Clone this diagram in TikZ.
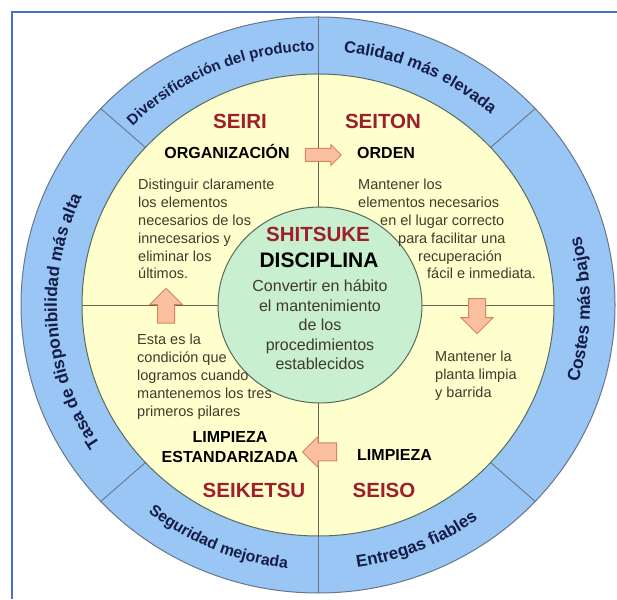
\documentclass[tikz,border=0pt]{standalone}
\usepackage{fontspec}
\setmainfont{Liberation Sans}
\usetikzlibrary{calc,shapes.arrows,shapes.geometric,decorations.text}
\definecolor{frameblue}{RGB}{68,114,196}
\definecolor{ringblue}{RGB}{153,198,244}
\definecolor{ringedge}{RGB}{105,118,138}
\definecolor{ringnavy}{RGB}{22,28,72}
\definecolor{paleyellow}{RGB}{255,255,206}
\definecolor{lineolive}{RGB}{105,98,78}
\definecolor{mint}{RGB}{200,239,207}
\definecolor{mintedge}{RGB}{88,108,92}
\definecolor{titlered}{RGB}{158,30,42}
\definecolor{bodytext}{RGB}{64,58,42}
\definecolor{arrowfill}{RGB}{250,192,160}
\definecolor{arrowedge}{RGB}{214,134,92}
% text on the blue ring: #1 centre angle, #2 1=clockwise / -1=counter, #3 size, #4 text
\newcommand{\ringlabel}[4]{%
  \pgfmathsetmacro{\rlx}{#2>0 ? 261 : 272}%
  \pgfmathsetmacro{\rly}{#2>0 ? 254 : 265}%
  \pgfmathsetmacro{\rla}{#1+#2*70}%
  \pgfmathsetmacro{\rlb}{#1-#2*70}%
  \path[decorate,decoration={text along path,text align=center,text color=ringnavy,
      text={|\fontsize{#3}{#3}\selectfont\bfseries|#4}}]
    ($(O)+(\rla:\rlx pt and \rly pt)$) arc[start angle=\rla,end angle=\rlb,
      x radius=\rlx pt,y radius=\rly pt];}

\begin{document}
\begin{tikzpicture}[x=1pt,y=1pt,
  body/.style={font=\fontsize{14.5}{17}\selectfont,text=bodytext,inner sep=0pt},
  corebody/.style={font=\fontsize{16}{19}\selectfont,text=bodytext,inner sep=0pt},
  pillar/.style={font=\fontsize{16}{19}\selectfont\bfseries,text=black,inner sep=0pt},
  jptitle/.style={font=\fontsize{20.5}{24}\selectfont\bfseries,text=titlered,inner sep=0pt},
  % #1 half shaft width, #2 head overhang, #3 length
  blockarrow/.style n args={3}{single arrow,draw=arrowedge,fill=arrowfill,line width=1pt,
      inner xsep=0pt,inner ysep=#1,single arrow head extend=#2,minimum height=#3,
      single arrow tip angle=90},
  sepline/.style={draw=ringedge,line width=0.9pt}]
  \useasboundingbox (0,0) rectangle (617,599);
  \fill[white] (0,0) rectangle (617,599);
  % --- page frame (only top and left edges show) ---
  \draw[frameblue,line width=2pt] (617,587) -- (12,587) -- (12,0);
  \coordinate (O) at (318,294);
  % --- blue ring and yellow disc ---
  \fill[ringblue] (O) ellipse[x radius=297pt,y radius=288pt];
  \fill[paleyellow] (O) ellipse[x radius=236pt,y radius=231pt];
  \foreach \a in {43,137,223,317}{%
    \draw[sepline] ($(O)+(\a:236pt and 231pt)$) -- ($(O)+(\a:297pt and 288pt)$);}
  \draw[sepline] ($(O)+(0,288)$) -- ($(O)+(0,231)$);
  \draw[sepline] ($(O)+(0,-231)$) -- ($(O)+(0,-288)$);
  \draw[lineolive,line width=0.9pt] ($(O)+(0,231)$) -- ($(O)+(0,-231)$);
  \draw[lineolive,line width=0.9pt] ($(O)+(-236,0)$) -- ($(O)+(236,0)$);
  \draw[ringedge,line width=1pt] (O) ellipse[x radius=297pt,y radius=288pt];
  \draw[mintedge,line width=1pt] (O) ellipse[x radius=236pt,y radius=231pt];
  % --- ring labels ---
  \ringlabel{113.4}{1}{15}{Diversificación del producto}
  \ringlabel{66}{1}{16.5}{Calidad más elevada}
  \ringlabel{184}{1}{17.3}{Tasa de disponibilidad más alta}
  \ringlabel{-1}{-1}{17.5}{Costes más bajos}
  \ringlabel{-67.4}{-1}{17}{Entregas fiables}
  \ringlabel{-113}{-1}{15.8}{Seguridad mejorada}
  % --- centre: shitsuke ---
  \node[ellipse,draw=mintedge,fill=mint,line width=1pt,minimum width=204pt,
      minimum height=196pt,inner sep=0pt] (core) at (320,294) {};
  \node[jptitle,anchor=base] (shitsuke) at (318,357) {SHITSUKE};
  \node[font=\fontsize{21}{24}\selectfont\bfseries,inner sep=0pt,anchor=base]
      (disciplina) at (319,331.5) {DISCIPLINA};
  \foreach \tx [count=\i] in {Convertir en hábito, el mantenimiento, de los,
      procedimientos, establecidos}{%
    \node[corebody,anchor=base] (c\i) at (320,{307-(\i-1)*19.5}) {\tx};}
  % --- seiri (top left) ---
  \node[jptitle,anchor=base] (seiri) at (240,470) {SEIRI};
  \node[pillar,anchor=base] (organiz) at (227,440) {ORGANIZACIÓN};
  \foreach \tx [count=\i] in {Distinguir claramente, los elementos,
      necesarios de los, innecesarios y, eliminar los, últimos.}{%
    \node[body,anchor=base west] (dl\i) at (138,{409-(\i-1)*17.8}) {\tx};}
  % --- seiton (top right) ---
  \node[jptitle,anchor=base] (seiton) at (383,470) {SEITON};
  \node[pillar,anchor=base west] (orden) at (357,440) {ORDEN};
  \foreach \xx/\tx [count=\i] in {358/Mantener los, 358/elementos necesarios,
      380/en el lugar correcto, 398/para facilitar una, 418/recuperación,
      427/fácil e inmediata.}{%
    \node[body,anchor=base west] (dr\i) at (\xx,{409-(\i-1)*17.8}) {\tx};}
  % --- seiso (bottom right) ---
  \foreach \tx [count=\i] in {Mantener la, planta limpia, y barrida}{%
    \node[body,anchor=base west] (lr\i) at (435,{237-(\i-1)*18}) {\tx};}
  \node[pillar,anchor=base west] (limpieza) at (357,138) {LIMPIEZA};
  \node[jptitle,anchor=base] (seiso) at (384,102) {SEISO};
  % --- seiketsu (bottom left) ---
  \foreach \tx [count=\i] in {Esta es la, condición que, logramos cuando,
      mantenemos los tres, primeros pilares}{%
    \node[body,anchor=base west] (ll\i) at (137,{254-(\i-1)*18}) {\tx};}
  \node[pillar,anchor=base] (limpiezaest) at (230,156) {LIMPIEZA};
  \node[pillar,anchor=base] (estandar) at (230,136) {ESTANDARIZADA};
  \node[jptitle,anchor=base] (seiketsu) at (254,102) {SEIKETSU};
  % --- block arrows between the pillars ---
  \node[blockarrow={6pt}{4pt}{36pt},rotate=0] (toorden) at (320,444) {};
  \node[blockarrow={8pt}{7.5pt}{35pt},rotate=-90] (toseiso) at (477,287) {};
  \node[blockarrow={8.5pt}{6.5pt}{34pt},rotate=180] (toseiketsu) at (324,147) {};
  \node[blockarrow={8pt}{8pt}{35pt},rotate=90] (toseiri) at (166,289) {};
\end{tikzpicture}
\end{document}
